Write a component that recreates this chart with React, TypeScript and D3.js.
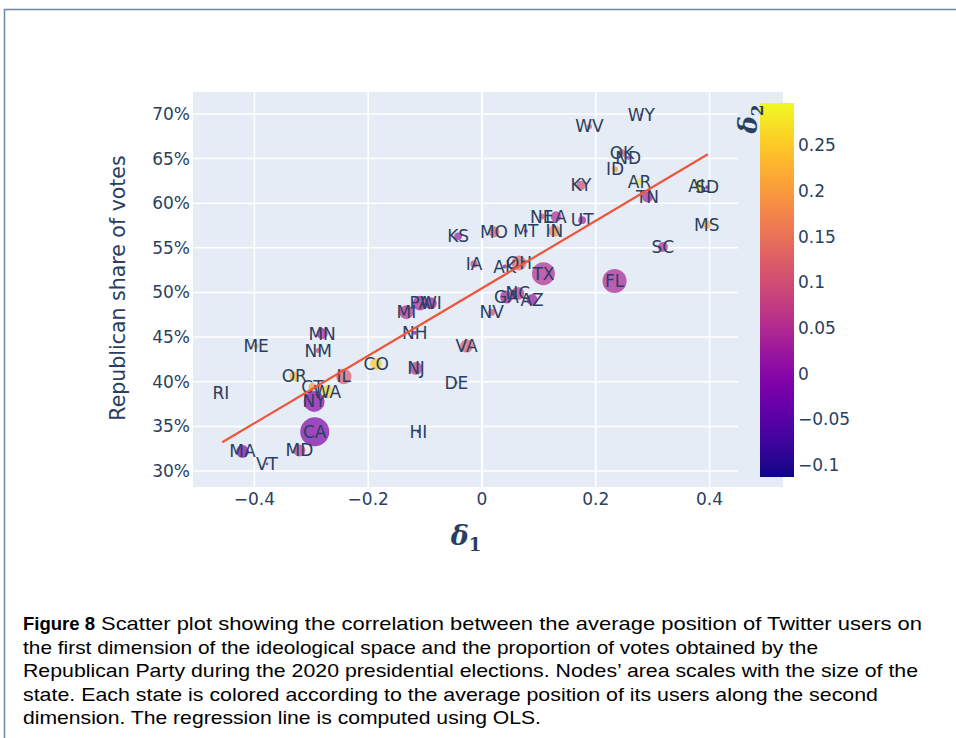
import { useEffect, useRef } from 'react'
import * as d3 from 'd3'

const states = ['WY', 'WV', 'OK', 'ND', 'ID', 'KY', 'AR', 'TN', 'AL', 'SD', 'MS', 'SC', 'NE', 'LA', 'UT', 'IN', 'MT', 'MO', 'OH', 'TX', 'FL', 'AK', 'IA', 'KS', 'NC', 'GA', 'AZ', 'NV', 'PA', 'WI', 'MI', 'NH', 'MN', 'NM', 'ME', 'VA', 'CO', 'NJ', 'OR', 'IL', 'DE', 'CT', 'WA', 'RI', 'NY', 'CA', 'HI', 'MD', 'MA', 'VT']
const delta1 = [0.280, 0.189, 0.246, 0.257, 0.234, 0.174, 0.277, 0.291, 0.381, 0.396, 0.395, 0.318, 0.105, 0.130, 0.176, 0.127, 0.077, 0.021, 0.065, 0.108, 0.233, 0.040, -0.014, -0.042, 0.063, 0.043, 0.088, 0.017, -0.109, -0.090, -0.133, -0.118, -0.281, -0.288, -0.397, -0.027, -0.186, -0.116, -0.330, -0.243, -0.045, -0.298, -0.272, -0.459, -0.295, -0.294, -0.112, -0.321, -0.421, -0.378]
const repShare = [0.699, 0.686, 0.656, 0.651, 0.638, 0.620, 0.624, 0.607, 0.619, 0.618, 0.576, 0.551, 0.585, 0.585, 0.581, 0.569, 0.569, 0.568, 0.533, 0.521, 0.513, 0.529, 0.532, 0.563, 0.499, 0.495, 0.492, 0.478, 0.488, 0.488, 0.478, 0.455, 0.454, 0.435, 0.440, 0.440, 0.420, 0.415, 0.406, 0.406, 0.399, 0.394, 0.389, 0.387, 0.378, 0.344, 0.344, 0.323, 0.322, 0.308]
const delta2 = [0.02, 0.12, 0.12, 0.02, 0.19, 0.10, 0.28, 0.04, 0.27, -0.01, 0.22, 0.05, 0.10, 0.05, 0.03, 0.18, 0.0, 0.12, 0.13, 0.05, 0.04, 0.0, 0.08, 0.03, 0.06, 0.03, 0.02, 0.10, 0.04, 0.03, 0.05, 0.0, 0.03, 0.08, 0.20, 0.12, 0.25, 0.06, 0.24, 0.12, 0.10, 0.20, 0.26, 0.12, 0.0, -0.01, -0.03, 0.07, -0.01, 0.0]
const stateSize = [0.4, 1.2, 3.0, 0.75, 1.7, 4.1, 2.3, 5.7, 3.8, 0.75, 3.0, 4.7, 1.7, 5.2, 2.8, 6.2, 0.75, 5.7, 10.6, 24.8, 27.1, 0.75, 2.5, 2.8, 7.9, 7.9, 5.7, 2.3, 10.1, 6.8, 9.2, 0.75, 5.7, 1.2, 1.2, 7.9, 6.8, 7.9, 4.7, 11.3, 0.4, 3.0, 7.9, 0.75, 20.7, 39.5, 0.4, 6.8, 7.6, 0.4]

// OLS line endpoints
const fitX = [-0.4566, 0.397]
const fitY = [0.3322, 0.6548]

const xTicks = [-0.4, -0.2, 0, 0.2, 0.4]
const yTicks = [0.3, 0.35, 0.4, 0.45, 0.5, 0.55, 0.6, 0.65, 0.7]
const cTicks = [-0.1, -0.05, 0, 0.05, 0.1, 0.15, 0.2, 0.25]

const captionLines = [
  'Scatter plot showing the correlation between the average position of Twitter users on',
  'the first dimension of the ideological space and the proportion of votes obtained by the',
  'Republican Party during the 2020 presidential elections. Nodes\u2019 area scales with the size of the',
  'state. Each state is colored according to the average position of its users along the second',
  'dimension. The regression line is computed using OLS.',
]
const captionWidths = [821, 795, 895, 855, 518]

const W = 956
const H = 738
const TXT = '#2a3f5f'
const FONT = '"DejaVu Sans", Verdana, sans-serif'

export default function App() {
  const svgRef = useRef<SVGSVGElement>(null)

  useEffect(() => {
    const svgEl = svgRef.current
    if (!svgEl) return
    const svg = d3.select(svgEl)
    svg.selectAll('*').remove()

    const plot = { left: 193, right: 738, top: 92, bottom: 487 }
    const x = d3.scaleLinear().domain([-0.508, 0.450]).range([plot.left, plot.right])
    const y = d3.scaleLinear().domain([0.2821, 0.7246]).range([plot.bottom, plot.top])
    const cDomain: [number, number] = [-0.113, 0.296]
    const color = d3.scaleSequential(d3.interpolatePlasma).domain(cDomain)
    const r = d3.scaleSqrt().domain([0, 39.5]).range([0, 14.5])

    svg.append('rect').attr('width', W).attr('height', H).attr('fill', '#fff')

    // frame
    svg.append('path')
      .attr('d', `M4.5,${H} V9.5 H${W}`)
      .attr('fill', 'none')
      .style('stroke', '#6f88a6')
      .style('stroke-width', '1.5')

    // plot background (extends under the colorbar)
    svg.append('rect')
      .attr('x', plot.left).attr('y', plot.top)
      .attr('width', plot.right - plot.left + 45).attr('height', plot.bottom - plot.top)
      .attr('fill', '#e5ecf6')

    const g = svg.append('g')

    // Gridlines
    yTicks.forEach(t => {
      g.append('line')
        .attr('x1', plot.left).attr('x2', plot.right)
        .attr('y1', y(t)).attr('y2', y(t))
        .style('stroke', '#fff').style('stroke-width', '1.5')
    })
    xTicks.forEach(t => {
      g.append('line')
        .attr('x1', x(t)).attr('x2', x(t))
        .attr('y1', plot.top).attr('y2', plot.bottom)
        .style('stroke', '#fff').style('stroke-width', t === 0 ? '2.2' : '1.5')
    })

    // tick labels
    const fmtX = (d: number) => (d === 0 ? '0' : d3.format('.1f')(d).replace('-', '\u2212'))
    xTicks.forEach(t => {
      g.append('text')
        .attr('x', x(t)).attr('y', 505)
        .attr('text-anchor', 'middle')
        .style('fill', TXT).style('font-size', '17px').style('font-family', FONT)
        .text(fmtX(t))
    })
    yTicks.forEach(t => {
      g.append('text')
        .attr('x', 190).attr('y', y(t))
        .attr('text-anchor', 'end')
        .attr('dominant-baseline', 'central')
        .style('fill', TXT).style('font-size', '17px').style('font-family', FONT)
        .text(d3.format('.0%')(t))
    })

    // Axis titles
    g.append('text')
      .attr('transform', 'translate(125,288) rotate(-90)')
      .attr('text-anchor', 'middle')
      .style('fill', TXT).style('font-size', '20.5px').style('font-family', FONT)
      .text('Republican share of votes')

    const xt = g.append('text')
      .attr('x', 466).attr('y', 545)
      .attr('text-anchor', 'middle')
      .style('fill', TXT).style('font-family', '"DejaVu Serif", serif').style('font-weight', 'bold')
    xt.append('tspan').style('font-style', 'italic').style('font-size', '27px').text('\u03b4')
    xt.append('tspan').attr('dy', 6).style('font-size', '18px').text('1')

    // markers
    const idx = d3.range(states.length)
    const order = idx.slice().sort((a, b) => stateSize[b] - stateSize[a])
    g.append('g').selectAll('circle')
      .data(order)
      .join('circle')
      .attr('cx', i => x(delta1[i]))
      .attr('cy', i => y(repShare[i]))
      .attr('r', i => r(stateSize[i]))
      .attr('fill', i => color(delta2[i]))
      .attr('fill-opacity', 0.7)

    g.append('g').selectAll('text')
      .data(idx)
      .join('text')
      .attr('x', i => x(delta1[i]))
      .attr('y', i => y(repShare[i]))
      .attr('text-anchor', 'middle')
      .attr('dominant-baseline', 'central')
      .style('fill', TXT).style('font-size', '17px').style('font-family', FONT)
      .text(i => states[i])

    // regression line
    const line = d3.line<number>().x(i => x(fitX[i])).y(i => y(fitY[i]))
    g.append('path')
      .datum([0, 1])
      .attr('d', line)
      .attr('fill', 'none')
      .style('stroke', '#EF553B')
      .style('stroke-width', '2.2')

    // colorbar
    const cb = { x: 760, w: 34, top: 103, bottom: 477 }
    const cy = d3.scaleLinear().domain(cDomain).range([cb.bottom, cb.top])
    const grad = svg.append('defs').append('linearGradient')
      .attr('id', 'plasma').attr('x1', 0).attr('y1', 1).attr('x2', 0).attr('y2', 0)
    d3.range(0, 1.0001, 0.05).forEach(s => {
      grad.append('stop')
        .attr('offset', s)
        .attr('stop-color', color(cDomain[0] + s * (cDomain[1] - cDomain[0])))
    })
    svg.append('rect')
      .attr('x', cb.x).attr('y', cb.top)
      .attr('width', cb.w).attr('height', cb.bottom - cb.top)
      .attr('fill', 'url(#plasma)')
    cTicks.forEach(t => {
      svg.append('text')
        .attr('x', 798).attr('y', cy(t))
        .attr('dominant-baseline', 'central')
        .style('fill', TXT).style('font-size', '17px').style('font-family', FONT)
        .text(t === 0 ? '0' : String(t).replace('-', '\u2212'))
    })
    const ct = svg.append('text')
      .attr('transform', 'translate(757,119) rotate(-90)')
      .attr('text-anchor', 'middle')
      .style('fill', TXT).style('font-family', '"DejaVu Serif", serif').style('font-weight', 'bold')
    ct.append('tspan').style('font-style', 'italic').style('font-size', '26px').text('\u03b4')
    ct.append('tspan').attr('dy', 6).style('font-size', '17px').text('2')

    // caption
    const capFont = '"Liberation Sans", Arial, sans-serif'
    svg.append('text')
      .attr('x', 23).attr('y', 630)
      .attr('textLength', 72).attr('lengthAdjust', 'spacingAndGlyphs')
      .style('font-family', capFont).style('font-size', '19px').style('font-weight', 'bold')
      .style('fill', '#000')
      .text('Figure 8')
    captionLines.forEach((s, i) => {
      svg.append('text')
        .attr('x', i === 0 ? 101 : 23).attr('y', 630 + i * 23.6)
        .attr('textLength', captionWidths[i]).attr('lengthAdjust', 'spacingAndGlyphs')
        .style('font-family', capFont).style('font-size', '19px')
        .style('fill', '#000')
        .text(s)
    })
  }, [])

  return (
    <svg
      ref={svgRef}
      width={W}
      height={H}
      style={{ position: 'absolute', left: 0, top: 0 }}
    />
  )
}
